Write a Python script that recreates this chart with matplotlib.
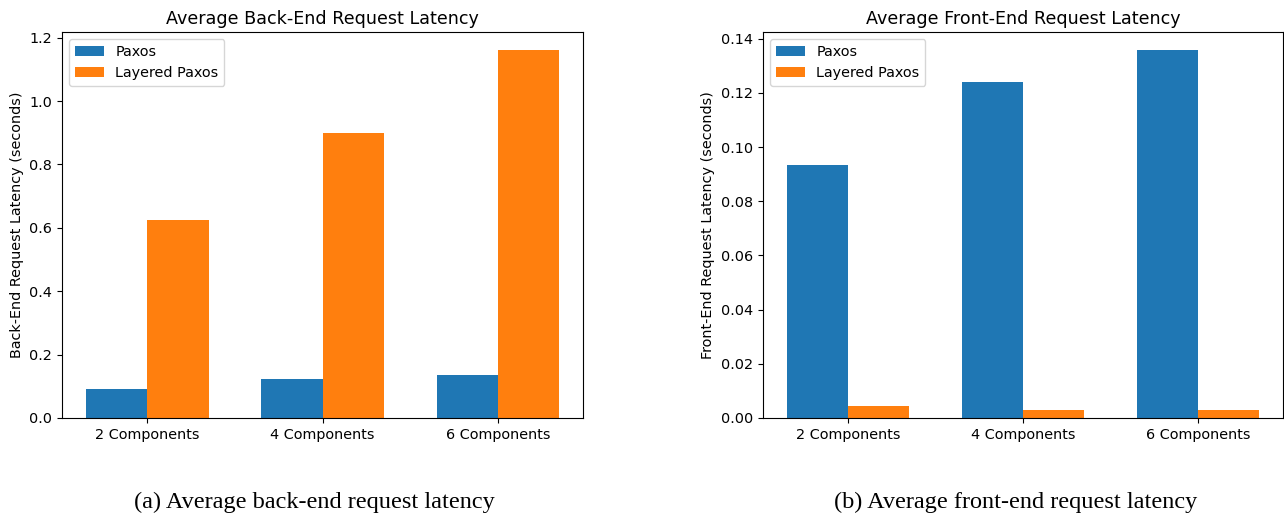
import numpy as np
import matplotlib
matplotlib.use('Agg')
import matplotlib.pyplot as plt

# Data
categories = ['2 Components', '4 Components', '6 Components']
backend_paxos = [0.092, 0.123, 0.135]
backend_layered = [0.625, 0.900, 1.160]
frontend_paxos = [0.0932, 0.1242, 0.1357]
frontend_layered = [0.0045, 0.0031, 0.0029]

x = np.arange(len(categories))
width = 0.35

plt.rcParams['font.size'] = 10.4

fig = plt.figure(figsize=(12.84, 5.14), dpi=100)
ax1 = fig.add_axes([0.0483, 0.1868, 0.4058, 0.751])
ax2 = fig.add_axes([0.5942, 0.1868, 0.4050, 0.751])

# Back-end latency
ax1.bar(x - width / 2, backend_paxos, width, label='Paxos', color='#1f77b4')
ax1.bar(x + width / 2, backend_layered, width, label='Layered Paxos', color='#ff7f0e')
ax1.set_xticks(x)
ax1.set_xticklabels(categories)
ax1.set_ylabel('Back-End Request Latency (seconds)')
ax1.set_title('Average Back-End Request Latency', fontsize=12.6)
ax1.legend(loc='upper left')

# Front-end latency
ax2.bar(x - width / 2, frontend_paxos, width, label='Paxos', color='#1f77b4')
ax2.bar(x + width / 2, frontend_layered, width, label='Layered Paxos', color='#ff7f0e')
ax2.set_xticks(x)
ax2.set_xticklabels(categories)
ax2.set_ylabel('Front-End Request Latency (seconds)')
ax2.set_title('Average Front-End Request Latency', fontsize=12.6)
ax2.legend(loc='upper left')

# Captions
fig.text(0.2445, 0.012, '(a) Average back-end request latency',
         ha='center', va='baseline', family='Liberation Serif', fontsize=17.5)
fig.text(0.791, 0.012, '(b) Average front-end request latency',
         ha='center', va='baseline', family='Liberation Serif', fontsize=17.5)

fig.savefig('out.png', dpi=100)
